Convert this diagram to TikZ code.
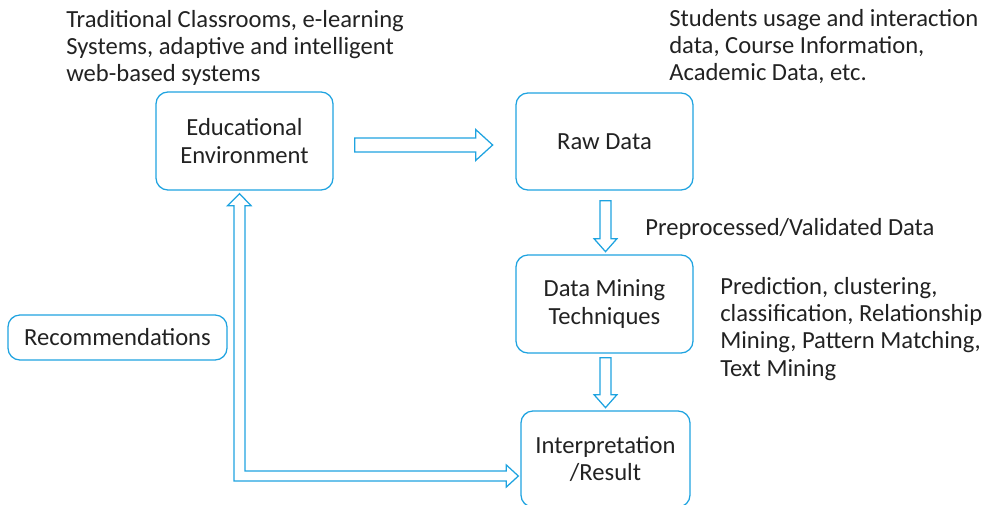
\documentclass[tikz,border=0pt]{standalone}
\usepackage{fontspec}
\setmainfont{Carlito}
\usetikzlibrary{calc}
\definecolor{edmblue}{HTML}{1FA3E0}
\definecolor{edmtext}{HTML}{222222}
\begin{document}
\begin{tikzpicture}[x=0.025cm,y=-0.025cm]

\tikzset{
	box/.style={draw=edmblue,line width=0.9pt,rounded corners=0.3cm,align=center,
	text=edmtext,font=\fontsize{17.5}{19.8}\selectfont,inner sep=0pt},
	note/.style={anchor=base west,align=left,inner sep=0pt,
	text=edmtext,font=\fontsize{17.5}{19.4}\selectfont},
}
        \tikzset{
          pics/hollow/.style args={#1/#2/#3}{code={
            \draw[edmblue,line width=0.9pt,line join=miter]
              (0,-#2) -- (#1-#3-1.5,-#2) -- (#1-#3-1.5,-#3) -- (#1,0)
              -- (#1-#3-1.5,#3) -- (#1-#3-1.5,#2) -- (0,#2) -- cycle;
            },
          }
        }
        \useasboundingbox (0,0) rectangle (997,505);

        %BOXES
        \node[box,minimum width=4.425cm,minimum height=2.45cm] (edu) at (244.5,141) {Educational\\Environment};
        \node[box,minimum width=4.425cm,minimum height=2.425cm] (raw) at (604.5,141.5) {Raw Data};
        \node[box,minimum width=4.425cm,minimum height=2.45cm] (dm) at (604.5,304) {Data Mining\\Techniques};
        \node[box,minimum width=4.225cm,minimum height=2.4cm] (res) at (605.5,459) {Interpretation\\/Result};
        \node[box,minimum width=5.475cm,minimum height=1.125cm] (rec) at (117.5,337.5) {Recommendations};

        %NOTES (base = last line)
        \node[note] (envtext) at (66,82) {Traditional Classrooms, e-learning\\Systems, adaptive and intelligent\\web-based systems};
        \node[note] (datatext) at (669,81) {Students usage and interaction\\data, Course Information,\\Academic Data, etc.};
        \node[note] (prep) at (645,235) {Preprocessed/Validated Data};
        \node[note] (tech) at (720,376) {Prediction, clustering,\\classification, Relationship\\Mining, Pattern Matching,\\Text Mining};

        %ARROWS
        \path ($(edu.east)+(21,4)$) pic {hollow={138/7/15.5}};
        \path ($(raw.south)+(1,10)$) pic[rotate=-90] {hollow={51/5.5/11.5}};
        \path ($(dm.south)+(1,4)$) pic[rotate=-90] {hollow={50/5.5/11.5}};
        %feedback
        \coordinate (up) at ($(edu.south)+(-5,3)$);
        \coordinate (in) at ($(res.west)+(-2,17)$);
        \coordinate (bend) at (up |- in);
        \draw[edmblue,line width=0.9pt,line join=miter] ($(bend)+(-5.5,5)$) -- ($(in)+(-12,5)$) -- ++(0,6) -- (in)
          -- ++(-12,-11) -- ++(0,6) -- ($(bend)+(5.5,-5)$) -- ($(up)+(5.5,12)$) -- ++(6,0) -- (up)
          -- ++(-12,12) -- ++(6.5,0) -- cycle;
    \end{tikzpicture}
\end{document}
